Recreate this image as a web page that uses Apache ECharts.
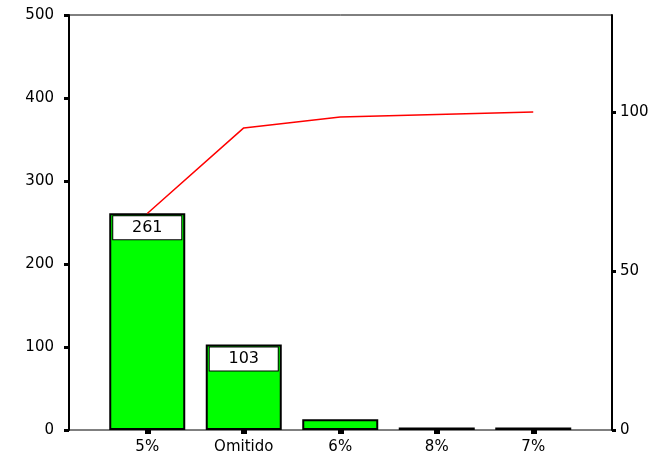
<!DOCTYPE html>
<html>
<head>
<meta charset="utf-8">
<script src="https://cdn.jsdelivr.net/npm/echarts@6/dist/echarts.min.js"></script>
<style>
  html, body { margin: 0; padding: 0; background: #fff; }
  #chart { width: 662px; height: 455px; }
</style>
</head>
<body>
<div id="chart"></div>
<script>
// categories and values
const categories = ['5%', 'Omitido', '6%', '8%', '7%']
const counts = [261, 103, 13, 3, 3]
const cumulativePct = [68.1, 95.0, 98.4, 99.2, 100]
const countTicks = [0, 100, 200, 300, 400, 500]
const pctTicks = [0, 50, 100]

const font = 'DejaVu Sans, Verdana, sans-serif'
const pctMax = 130.5 // right axis ends where 500 counts end

const chart = echarts.init(document.getElementById('chart'))
chart.setOption({
  animation: false,
  textStyle: { fontFamily: font },
  grid: [
    // frame and the two value axes
    { left: 69, right: 50, top: 15, bottom: 25, show: true, borderColor: '#000', borderWidth: 1 },
    // bars sit in a narrower band inside the frame
    { left: 99, right: 80.5, top: 15, bottom: 25 }
  ],
  xAxis: [
    {
      gridIndex: 0,
      type: 'value',
      min: 0,
      max: 1,
      axisLine: { show: false },
      axisTick: { show: false },
      axisLabel: { show: false },
      splitLine: { show: false }
    },
    {
      gridIndex: 1,
      type: 'category',
      data: categories,
      axisLine: { show: false },
      axisTick: {
        show: true,
        alignWithLabel: true,
        length: 4,
        lineStyle: { color: '#000', width: 6 }
      },
      axisLabel: { color: '#000', fontFamily: font, fontSize: 15, margin: 10 },
      splitLine: { show: false }
    }
  ],
  yAxis: [
    {
      gridIndex: 0,
      type: 'value',
      position: 'left',
      min: 0,
      max: 500,
      interval: 100,
      axisLine: { show: true, lineStyle: { color: '#000', width: 2 } },
      axisTick: { show: true, length: 5, lineStyle: { color: '#000', width: 3 } },
      axisLabel: {
        color: '#000',
        fontFamily: font,
        fontSize: 15,
        margin: 15,
        customValues: countTicks
      },
      splitLine: { show: false }
    },
    {
      gridIndex: 0,
      type: 'value',
      position: 'right',
      min: 0,
      max: pctMax,
      interval: 50,
      axisLine: { show: true, lineStyle: { color: '#000', width: 2 } },
      axisTick: { show: true, length: 4, customValues: pctTicks, lineStyle: { color: '#000', width: 3 } },
      axisLabel: {
        color: '#000',
        fontFamily: font,
        fontSize: 15,
        margin: 8,
        customValues: pctTicks
      },
      splitLine: { show: false }
    },
    {
      gridIndex: 1,
      type: 'value',
      min: 0,
      max: 500,
      show: false
    },
    {
      gridIndex: 1,
      type: 'value',
      min: 0,
      max: pctMax,
      show: false
    }
  ],
  series: [
    {
      type: 'bar',
      xAxisIndex: 1,
      yAxisIndex: 2,
      barWidth: 76,
      data: counts.map((v, i) => ({
        value: v,
        label: { show: i < 2 }
      })),
      itemStyle: { color: '#00ff00', borderColor: '#000', borderWidth: 2 },
      label: {
        position: 'insideTop',
        distance: 3,
        color: '#000',
        fontFamily: font,
        fontSize: 16,
        backgroundColor: '#fff',
        borderColor: '#000',
        borderWidth: 1,
        width: 68,
        height: 23,
        lineHeight: 23,
        align: 'center'
      }
    },
    {
      type: 'line',
      xAxisIndex: 1,
      yAxisIndex: 3,
      data: cumulativePct,
      symbol: 'none',
      lineStyle: { color: '#ff0000', width: 1.5 },
      z: 5
    }
  ]
})
</script>
</body>
</html>
